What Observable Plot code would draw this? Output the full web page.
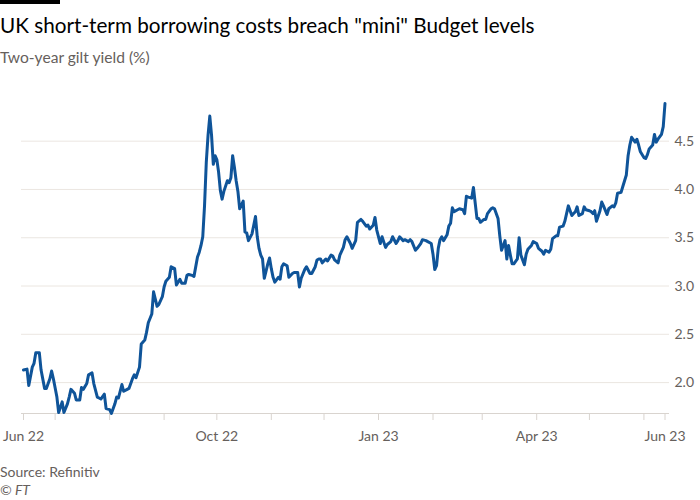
<!DOCTYPE html>
<html><head><meta charset="utf-8">
<script src="https://cdn.jsdelivr.net/npm/d3@7"></script>
<script src="https://cdn.jsdelivr.net/npm/@observablehq/plot@0.6"></script>
<style>
body{margin:0;background:#fff;font-family:Lato,"Noto Sans",sans-serif;width:700px;height:500px;position:relative;overflow:hidden}
#bar{position:absolute;left:0;top:0;width:60px;height:4px;background:#000}
#title{position:absolute;left:0;top:12px;font-size:20.7px;line-height:26px;color:#000;white-space:nowrap}
#subtitle{position:absolute;left:0;top:47px;font-size:15.6px;line-height:20px;color:#66605c;white-space:nowrap}
#chart{position:absolute;left:0;top:80px}
#source{position:absolute;left:0;top:463px;font-size:14px;line-height:18px;color:#66605c;white-space:nowrap}
#copy{position:absolute;left:0;top:481px;font-size:14px;line-height:18px;color:#66605c;font-style:italic;white-space:nowrap}
</style></head>
<body>
<div id="bar"></div>
<div id="title">UK short-term borrowing costs breach "mini" Budget levels</div>
<div id="subtitle">Two-year gilt yield (%)</div>
<div id="chart"></div>
<div id="source">Source: Refinitiv</div>
<div id="copy">© FT</div>
<script>
const dates = [
"2022-06-13","2022-06-15","2022-06-16","2022-06-18","2022-06-19","2022-06-20","2022-06-22","2022-06-23","2022-06-25","2022-06-26",
"2022-06-28","2022-06-29","2022-06-30","2022-07-02","2022-07-03","2022-07-05","2022-07-06","2022-07-08","2022-07-09","2022-07-10",
"2022-07-12","2022-07-13","2022-07-15","2022-07-16","2022-07-17","2022-07-19","2022-07-20","2022-07-22","2022-07-23","2022-07-25",
"2022-07-26","2022-07-27","2022-07-29","2022-07-30","2022-08-01","2022-08-02","2022-08-04","2022-08-05","2022-08-06","2022-08-08",
"2022-08-09","2022-08-11","2022-08-12","2022-08-14","2022-08-15","2022-08-16","2022-08-18","2022-08-19","2022-08-21","2022-08-22",
"2022-08-23","2022-08-25","2022-08-26","2022-08-28","2022-08-29","2022-08-31","2022-09-01","2022-09-02","2022-09-04","2022-09-05",
"2022-09-07","2022-09-08","2022-09-10","2022-09-11","2022-09-13","2022-09-14","2022-09-15","2022-09-17","2022-09-18","2022-09-20",
"2022-09-21","2022-09-22","2022-09-23","2022-09-24","2022-09-25","2022-09-26","2022-09-27","2022-09-28","2022-09-29","2022-09-30",
"2022-10-01","2022-10-02","2022-10-03","2022-10-04","2022-10-05","2022-10-07","2022-10-08","2022-10-09","2022-10-10","2022-10-11",
"2022-10-12","2022-10-13","2022-10-14","2022-10-16","2022-10-17","2022-10-18","2022-10-19","2022-10-21","2022-10-22","2022-10-23",
"2022-10-24","2022-10-25","2022-10-26","2022-10-27","2022-10-28","2022-10-30","2022-10-31","2022-11-01","2022-11-02","2022-11-03",
"2022-11-05","2022-11-06","2022-11-07","2022-11-08","2022-11-10","2022-11-11","2022-11-13","2022-11-14","2022-11-16","2022-11-17",
"2022-11-18","2022-11-20","2022-11-21","2022-11-23","2022-11-24","2022-11-26","2022-11-27","2022-11-28","2022-11-29","2022-11-30",
"2022-12-02","2022-12-03","2022-12-05","2022-12-06","2022-12-07","2022-12-09","2022-12-10","2022-12-12","2022-12-13","2022-12-14",
"2022-12-16","2022-12-17","2022-12-19","2022-12-20","2022-12-22","2022-12-23","2022-12-25","2022-12-26","2022-12-27","2022-12-29",
"2022-12-30","2022-12-31","2023-01-02","2023-01-03","2023-01-05","2023-01-06","2023-01-08","2023-01-09","2023-01-11","2023-01-12",
"2023-01-13","2023-01-15","2023-01-16","2023-01-18","2023-01-19","2023-01-20","2023-01-22","2023-01-23","2023-01-25","2023-01-26",
"2023-01-28","2023-01-29","2023-01-31","2023-02-01","2023-02-02","2023-02-03","2023-02-04","2023-02-05","2023-02-06","2023-02-07",
"2023-02-09","2023-02-10","2023-02-11","2023-02-12","2023-02-13","2023-02-15","2023-02-16","2023-02-18","2023-02-19","2023-02-20",
"2023-02-21","2023-02-23","2023-02-24","2023-02-26","2023-02-27","2023-02-28","2023-03-02","2023-03-03","2023-03-04","2023-03-06",
"2023-03-07","2023-03-08","2023-03-10","2023-03-11","2023-03-12","2023-03-14","2023-03-15","2023-03-16","2023-03-17","2023-03-18",
"2023-03-19","2023-03-21","2023-03-22","2023-03-23","2023-03-25","2023-03-26","2023-03-27","2023-03-29","2023-03-30","2023-04-01",
"2023-04-02","2023-04-04","2023-04-05","2023-04-06","2023-04-08","2023-04-09","2023-04-10","2023-04-12","2023-04-13","2023-04-14",
"2023-04-16","2023-04-17","2023-04-18","2023-04-19","2023-04-21","2023-04-22","2023-04-23","2023-04-24","2023-04-25","2023-04-27",
"2023-04-28","2023-04-29","2023-05-01","2023-05-02","2023-05-03","2023-05-04","2023-05-05","2023-05-07","2023-05-08","2023-05-09",
"2023-05-11","2023-05-12","2023-05-14","2023-05-15","2023-05-16","2023-05-17","2023-05-19","2023-05-20","2023-05-21","2023-05-22",
"2023-05-23","2023-05-24","2023-05-25","2023-05-27","2023-05-28","2023-05-29","2023-05-30","2023-06-01","2023-06-02","2023-06-03",
"2023-06-04","2023-06-06","2023-06-07","2023-06-08","2023-06-09","2023-06-11","2023-06-12","2023-06-13"
];
const yields = [
2.13,2.14,1.97,2.16,2.20,2.31,2.31,2.13,1.94,1.94,
2.04,2.12,2.04,1.85,1.69,1.80,1.69,1.78,1.85,1.93,
1.89,1.82,1.82,1.95,1.93,1.99,2.08,2.10,1.99,1.85,
1.84,1.83,1.88,1.73,1.72,1.68,1.78,1.85,1.84,1.98,
1.91,1.93,1.94,2.04,2.08,2.05,2.16,2.40,2.44,2.52,
2.62,2.71,2.94,2.79,2.81,2.89,2.99,3.05,3.09,3.20,
3.18,3.01,3.07,3.03,3.03,3.11,3.12,3.11,3.10,3.30,
3.35,3.42,3.51,3.83,4.28,4.56,4.76,4.56,4.26,4.35,
4.31,4.18,3.99,3.90,3.98,4.09,4.07,4.12,4.35,4.23,
4.09,3.98,3.80,3.88,3.56,3.55,3.47,3.54,3.63,3.72,
3.51,3.39,3.32,3.28,3.08,3.23,3.29,3.18,3.09,3.04,
3.09,3.07,3.20,3.23,3.21,3.09,3.13,3.14,3.14,2.99,
3.08,3.17,3.20,3.13,3.13,3.20,3.27,3.28,3.28,3.24,
3.28,3.26,3.32,3.31,3.27,3.24,3.32,3.40,3.48,3.51,
3.44,3.39,3.47,3.66,3.69,3.67,3.62,3.63,3.59,3.63,
3.71,3.58,3.44,3.51,3.40,3.43,3.46,3.51,3.44,3.47,
3.51,3.47,3.48,3.46,3.48,3.46,3.37,3.39,3.44,3.48,
3.47,3.46,3.44,3.33,3.17,3.21,3.39,3.48,3.51,3.47,
3.53,3.62,3.65,3.81,3.77,3.79,3.80,3.79,3.75,3.93,
3.92,3.91,4.02,3.70,3.70,3.66,3.69,3.69,3.75,3.80,
3.81,3.80,3.70,3.52,3.37,3.47,3.28,3.42,3.32,3.23,
3.23,3.28,3.50,3.32,3.22,3.33,3.38,3.42,3.46,3.44,
3.39,3.36,3.33,3.37,3.35,3.38,3.49,3.52,3.52,3.61,
3.62,3.67,3.75,3.83,3.73,3.75,3.77,3.82,3.73,3.75,
3.82,3.79,3.78,3.77,3.75,3.78,3.67,3.78,3.87,3.83,
3.74,3.80,3.83,3.82,3.86,3.96,3.97,4.03,4.09,4.15,
4.35,4.46,4.54,4.49,4.52,4.46,4.39,4.33,4.32,4.36,
4.42,4.46,4.57,4.49,4.52,4.57,4.65,4.89
];
const yTicks = [2.0, 2.5, 3.0, 3.5, 4.0, 4.5];
const xTickDates = ["2022-06-13","2022-07-01","2022-08-01","2022-09-01","2022-10-01","2022-11-01","2022-12-01",
  "2023-01-01","2023-02-01","2023-03-01","2023-04-01","2023-05-01","2023-06-01","2023-06-13"];
const xTickLabels = ["Jun 22","","","","Oct 22","","","Jan 23","","","Apr 23","","","Jun 23"];

const data = dates.map((d, i) => ({date: new Date(d), value: yields[i]}));
const tickDates = xTickDates.map(d => new Date(d));
const labelMap = new Map(tickDates.map((d, i) => [+d, xTickLabels[i]]));
const yMin = d3.min(yields), yMax = d3.max(yields);

const chart = Plot.plot({
  width: 700, height: 370,
  marginTop: 23, marginBottom: 37, marginLeft: 23, marginRight: 35.5,
  style: {fontFamily: "Lato, 'Noto Sans', sans-serif", fontSize: "14px", background: "transparent"},
  x: {type: "utc", domain: [tickDates[0], tickDates[tickDates.length - 1]], label: null},
  y: {domain: [yMin, yMax], label: null},
  marks: [
    Plot.ruleY(yTicks, {stroke: "#ebe6e1", strokeWidth: 1, insetLeft: -2, insetRight: -4.5}),
    Plot.ruleY([yMin], {stroke: "#d9d4cf", strokeWidth: 1, insetLeft: -2, insetRight: -4.5}),
    Plot.axisX(tickDates, {anchor: "bottom", tickSize: 7, tickPadding: 11, stroke: "#d9d4cf",
      fill: "#66605c", fontSize: 14, tickFormat: d => labelMap.get(+d) ?? "", label: null}),
    Plot.axisY(yTicks, {anchor: "right", tickSize: 0, tickPadding: 9.5, fill: "#66605c", fontSize: 14,
      tickFormat: d => d.toFixed(1), label: null}),
    Plot.lineY(data, {x: "date", y: "value", stroke: "#0f5499", strokeWidth: 3})
  ]
});
document.getElementById("chart").appendChild(chart);
</script>
</body></html>
